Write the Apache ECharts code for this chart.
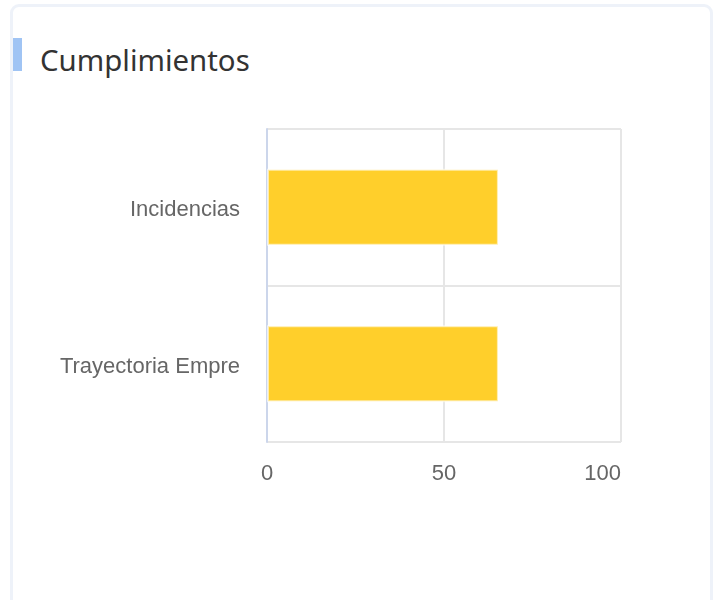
<!DOCTYPE html>
<html>
<head>
<meta charset="utf-8">
<script src="https://cdn.jsdelivr.net/npm/echarts@6/dist/echarts.min.js"></script>
<style>
  html, body { margin: 0; padding: 0; background: #fff; }
  body { width: 716px; height: 600px; position: relative; overflow: hidden; }
  .card {
    position: absolute; left: 10px; top: 4px; width: 697px; height: 640px;
    border: 3px solid #eef2f9; border-radius: 9px; background: #fff;
  }
  .card .mark {
    position: absolute; left: 0; top: 31px; width: 9px; height: 33px; background: #a0c4f4;
  }
  .card h2 {
    position: absolute; left: 27px; top: 35px; margin: 0;
    font-family: "Noto Sans", sans-serif; font-weight: normal; font-size: 29.4px;
    line-height: 36px; color: #333;
  }
  #chart { position: absolute; left: 0; top: 0; width: 716px; height: 600px; }
</style>
</head>
<body>
<div class="card">
  <div class="mark"></div>
  <h2>Cumplimientos</h2>
</div>
<div id="chart"></div>
<script>
  // categorias de arriba hacia abajo
  var categories = ['Incidencias', 'Trayectoria Empre'];
  var cumplimiento = [65.5, 65.5];
  var xTicks = [0, 50, 100];

  var myChart = echarts.init(document.getElementById('chart'));

  myChart.setOption({
    animation: false,
    textStyle: { fontFamily: '"Liberation Sans", Arial, sans-serif' },
    grid: {
      left: 267,
      right: 95,
      top: 129,
      bottom: 158,
      containLabel: false
    },
    xAxis: {
      type: 'value',
      min: xTicks[0],
      max: xTicks[xTicks.length - 1],
      interval: xTicks[1] - xTicks[0],
      axisLine: { show: false },
      axisTick: { show: false },
      axisLabel: {
        color: '#666',
        fontSize: 22,
        margin: 21,
        alignMaxLabel: 'right'
      },
      splitLine: {
        show: true,
        lineStyle: { color: '#e6e6e6', width: 2 }
      }
    },
    yAxis: {
      type: 'category',
      inverse: true,
      data: categories,
      axisLine: {
        show: true,
        lineStyle: { color: '#ccd6eb', width: 2 }
      },
      axisTick: { show: false },
      axisLabel: {
        color: '#666',
        fontSize: 22,
        margin: 27,
        formatter: '{c|{value}}',
        rich: {
          c: {
            color: '#666',
            fontSize: 22,
            padding: [6, 0, 0, 0]
          }
        }
      },
      splitLine: {
        show: true,
        lineStyle: { color: '#e6e6e6', width: 2 }
      }
    },
    series: [
      {
        type: 'bar',
        data: cumplimiento,
        barWidth: 77,
        itemStyle: {
          color: '#ffcf2b',
          borderColor: 'rgba(255,255,255,0.6)',
          borderWidth: 2
        }
      }
    ]
  });
</script>
</body>
</html>
